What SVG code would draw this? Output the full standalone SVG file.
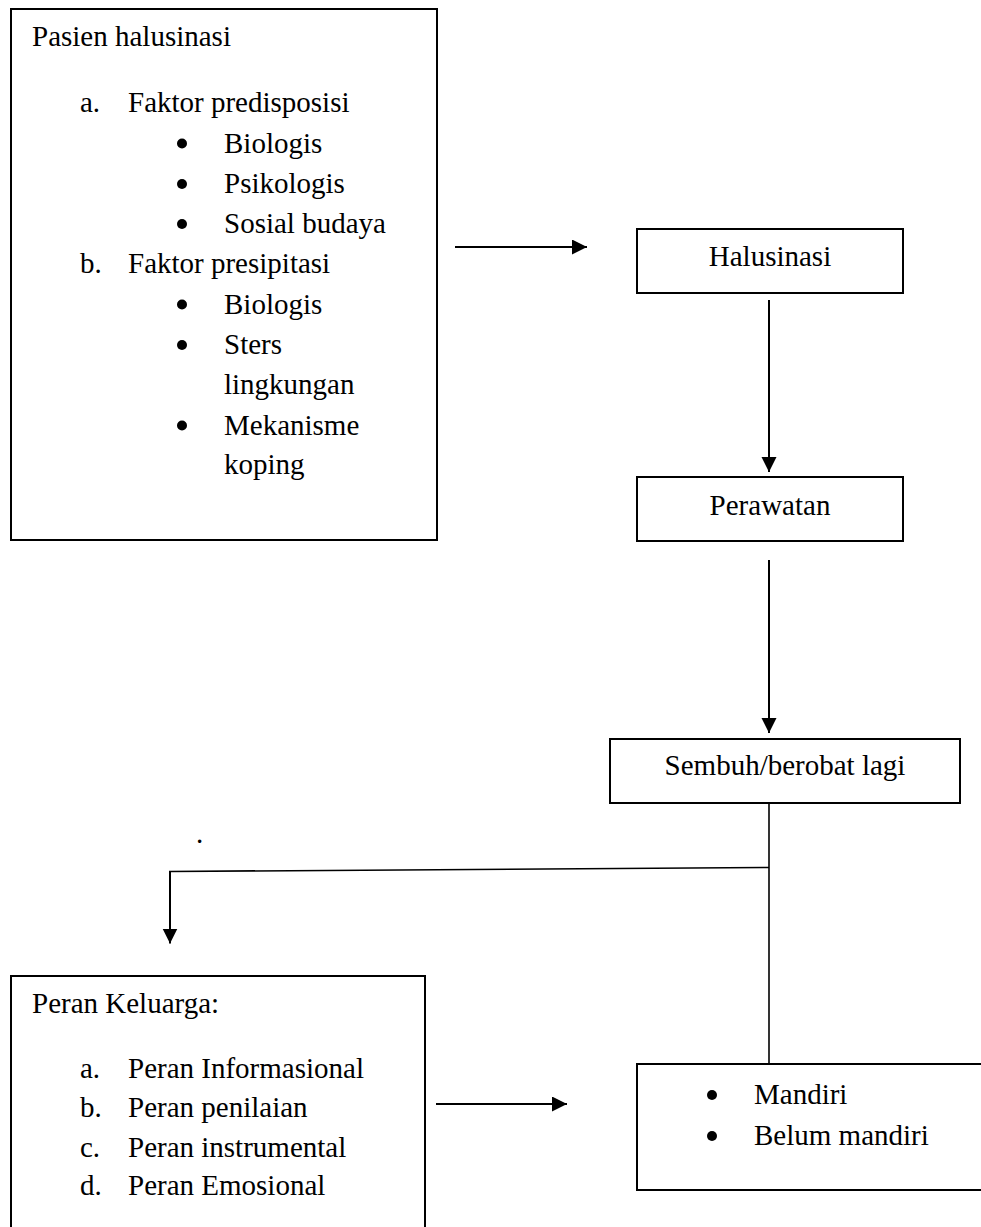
<svg xmlns="http://www.w3.org/2000/svg" width="981" height="1227" viewBox="0 0 981 1227">
  <style>
    .box { fill: #ffffff; stroke: #000000; stroke-width: 2; }
    .t { font-family: "Liberation Serif", "Times New Roman", serif; font-size: 29px; fill: #000000; }
    .c { text-anchor: middle; }
    .bul { fill: #000000; stroke: none; }
    .arrow { fill: none; stroke: #000000; stroke-width: 2; marker-end: url(#head); }
    .line { fill: none; stroke: #000000; stroke-width: 1.6; }
  </style>
  <defs>
    <marker id="head" markerUnits="userSpaceOnUse" markerWidth="16" markerHeight="16" refX="15" refY="7.5" orient="auto">
      <path d="M0,0 L15,7.5 L0,15 Z" fill="#000000"/>
    </marker>
  </defs>
  <rect x="0" y="0" width="981" height="1227" fill="#ffffff"/>

  <g id="pasien">
    <rect class="box" x="11" y="9" width="426" height="531"/>
    <text class="t" x="32" y="45.5">Pasien halusinasi</text>
    <text class="t" x="80" y="112">a.</text>
    <text class="t" x="128" y="112">Faktor predisposisi</text>
    <circle class="bul" cx="182" cy="143.5" r="5"/>
    <text class="t" x="224" y="152.5">Biologis</text>
    <circle class="bul" cx="182" cy="184" r="5"/>
    <text class="t" x="224" y="193">Psikologis</text>
    <circle class="bul" cx="182" cy="224" r="5"/>
    <text class="t" x="224" y="233">Sosial budaya</text>
    <text class="t" x="80" y="273">b.</text>
    <text class="t" x="128" y="273">Faktor presipitasi</text>
    <circle class="bul" cx="182" cy="304.5" r="5"/>
    <text class="t" x="224" y="313.5">Biologis</text>
    <circle class="bul" cx="182" cy="345" r="5"/>
    <text class="t" x="224" y="354">Sters</text>
    <text class="t" x="224" y="394">lingkungan</text>
    <circle class="bul" cx="182" cy="425.5" r="5"/>
    <text class="t" x="224" y="434.5">Mekanisme</text>
    <text class="t" x="224" y="474">koping</text>
  </g>

  <g id="halusinasi">
    <rect class="box" x="637" y="229" width="266" height="64"/>
    <text class="t c" x="770" y="266">Halusinasi</text>
  </g>

  <g id="perawatan">
    <rect class="box" x="637" y="477" width="266" height="64"/>
    <text class="t c" x="770" y="515">Perawatan</text>
  </g>

  <g id="sembuh">
    <rect class="box" x="610" y="739" width="350" height="64"/>
    <text class="t c" x="785" y="775">Sembuh/berobat lagi</text>
  </g>

  <g id="peran-keluarga">
    <rect class="box" x="11" y="976" width="414" height="300"/>
    <text class="t" x="32" y="1013">Peran Keluarga:</text>
    <text class="t" x="80" y="1078">a.</text>
    <text class="t" x="128" y="1078">Peran Informasional</text>
    <text class="t" x="80" y="1117">b.</text>
    <text class="t" x="128" y="1117">Peran penilaian</text>
    <text class="t" x="80" y="1156.5">c.</text>
    <text class="t" x="128" y="1156.5">Peran instrumental</text>
    <text class="t" x="80" y="1195">d.</text>
    <text class="t" x="128" y="1195">Peran Emosional</text>
  </g>

  <g id="mandiri">
    <rect class="box" x="637" y="1064" width="400" height="126"/>
    <circle class="bul" cx="712" cy="1095" r="5"/>
    <text class="t" x="754" y="1104">Mandiri</text>
    <circle class="bul" cx="712" cy="1136" r="5"/>
    <text class="t" x="754" y="1145">Belum mandiri</text>
  </g>

  <text class="t" x="196" y="843">.</text>

  <g id="connectors">
    <line class="arrow" x1="455" y1="247" x2="587" y2="247"/>
    <line class="arrow" x1="769" y1="300" x2="769" y2="472"/>
    <line class="arrow" x1="769" y1="560" x2="769" y2="733"/>
    <line class="line" x1="769" y1="803" x2="769" y2="1064"/>
    <line class="line" x1="769" y1="867.5" x2="169" y2="871.5"/>
    <line class="arrow" x1="170" y1="871" x2="170" y2="943.5"/>
    <line class="arrow" x1="436" y1="1104" x2="567" y2="1104"/>
  </g>
</svg>
